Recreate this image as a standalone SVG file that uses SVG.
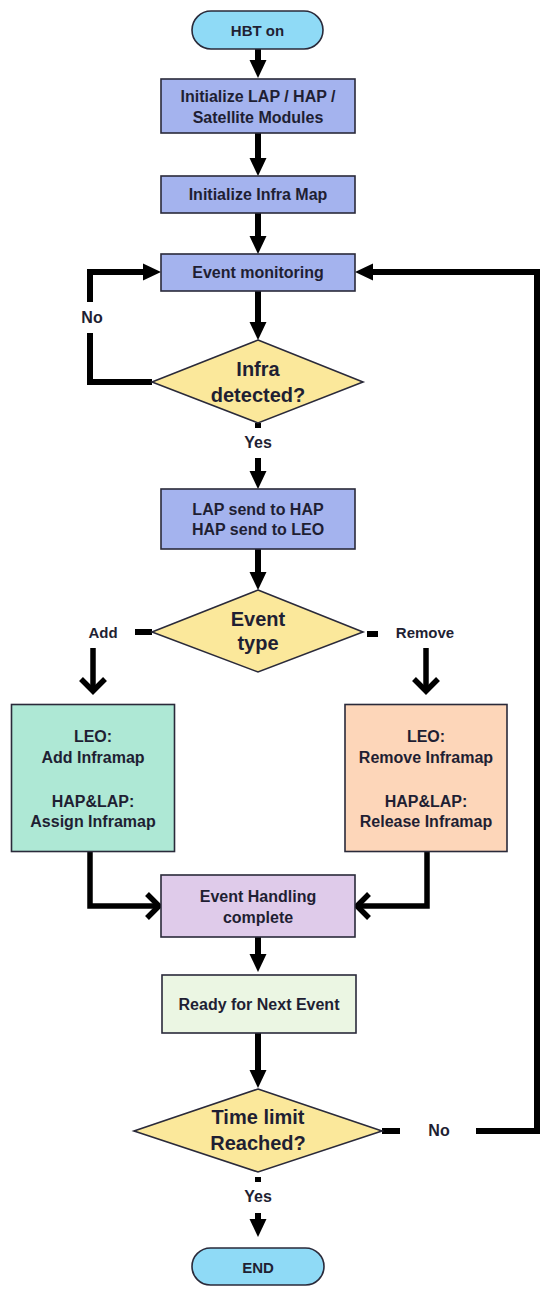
<svg xmlns="http://www.w3.org/2000/svg" width="550" height="1295" viewBox="0 0 550 1295">
<defs>
<style>
.t{font-family:"Liberation Sans",Arial,sans-serif;font-weight:bold;fill:#1f1f33;text-anchor:middle}
.s15{font-size:15px}.s16{font-size:16px}.s20{font-size:20px}
.box{stroke:#2a2a3a;stroke-width:1.6}
.pill{fill:#8fdaf6}.blue{fill:#a4b3ee}.dia{fill:#fbe89b}.green{fill:#aee8d5}.orange{fill:#fdd6b9}.purple{fill:#dfcbea}.ready{fill:#ebf6e3}
.c{fill:none;stroke:#000;stroke-width:6}
.cf{fill:none;stroke:#000;stroke-width:6;marker-end:url(#ah)}
.co{fill:none;stroke:#000;stroke-width:5.5;marker-end:url(#oh)}
</style>
<marker id="ah" markerUnits="userSpaceOnUse" markerWidth="20" markerHeight="18" refX="6" refY="8.5" orient="auto" overflow="visible">
<path d="M0,0 L18,8.5 L0,17 Z" fill="#000"/>
</marker>
<marker id="oh" markerUnits="userSpaceOnUse" markerWidth="20" markerHeight="30" refX="13" refY="13" orient="auto" overflow="visible">
<path d="M1,1 L13,13 L1,25" fill="none" stroke="#000" stroke-width="5.5" stroke-linejoin="miter"/>
</marker>
</defs>
<rect width="550" height="1295" fill="#fff"/>

<g id="connectors">
<line class="cf" x1="258" y1="49" x2="258" y2="66"/>
<line class="cf" x1="258" y1="133" x2="258" y2="164"/>
<line class="cf" x1="258" y1="213" x2="258" y2="242"/>
<line class="cf" x1="258" y1="291" x2="258" y2="328"/>
<path class="c" d="M152,382 H90 V333"/>
<path class="cf" d="M90,302 V272 H149"/>
<rect x="255" y="423" width="6" height="5" fill="#000"/>
<line class="cf" x1="258" y1="458" x2="258" y2="477"/>
<line class="cf" x1="258" y1="549" x2="258" y2="578"/>
<line class="c" x1="135" y1="632" x2="152" y2="632"/>
<line class="c" x1="367" y1="634" x2="378" y2="634"/>
<line class="co" x1="93" y1="648" x2="93" y2="691"/>
<line class="co" x1="426" y1="648" x2="426" y2="691"/>
<path class="co" d="M90,852 V906 H159"/>
<path class="co" d="M427,852 V906 H357"/>
<line class="cf" x1="258" y1="937" x2="258" y2="960"/>
<line class="cf" x1="258" y1="1033" x2="258" y2="1076"/>
<line class="c" x1="382" y1="1131" x2="400" y2="1131"/>
<path class="cf" d="M476,1131 H537 V272 H367"/>
<rect x="255" y="1177" width="6" height="5" fill="#000"/>
<line class="cf" x1="258" y1="1213" x2="258" y2="1225"/>
</g>

<g id="lbl-no1"><text class="t s16" x="92" y="323">No</text></g>
<g id="lbl-yes1"><text class="t s16" x="258" y="448">Yes</text></g>
<g id="lbl-add"><text class="t s15" x="103" y="638">Add</text></g>
<g id="lbl-remove"><text class="t s15" x="425" y="638">Remove</text></g>
<g id="lbl-no2"><text class="t s16" x="439" y="1136">No</text></g>
<g id="lbl-yes2"><text class="t s16" x="258" y="1202">Yes</text></g>

<g id="start">
<rect class="box pill" x="192" y="11" width="131" height="38" rx="19"/>
<text class="t s15" x="257.5" y="36">HBT on</text>
</g>
<g id="init-modules">
<rect class="box blue" x="161" y="79" width="194" height="54"/>
<text class="t s16" x="258" y="101.5">Initialize LAP / HAP /</text>
<text class="t s16" x="258" y="122.5">Satellite Modules</text>
</g>
<g id="init-map">
<rect class="box blue" x="161" y="176" width="194" height="37"/>
<text class="t s16" x="258" y="200">Initialize Infra Map</text>
</g>
<g id="event-monitoring">
<rect class="box blue" x="161" y="254" width="194" height="37"/>
<text class="t s16" x="258" y="278">Event monitoring</text>
</g>
<g id="infra-detected">
<polygon class="box dia" points="258,340 363,382 258,423 152,382"/>
<text class="t s20" x="258" y="376">Infra</text>
<text class="t s20" x="258" y="401.5">detected?</text>
</g>
<g id="send">
<rect class="box blue" x="161" y="489" width="194" height="60"/>
<text class="t s16" x="258" y="515">LAP send to HAP</text>
<text class="t s16" x="258" y="535">HAP send to LEO</text>
</g>
<g id="event-type">
<polygon class="box dia" points="258,590 363,632 258,672 152,632"/>
<text class="t s20" x="258" y="626">Event</text>
<text class="t s20" x="258" y="650">type</text>
</g>
<g id="add-box">
<rect class="box green" x="11.5" y="704.5" width="163" height="147"/>
<text class="t s16" x="93" y="742">LEO:</text>
<text class="t s16" x="93" y="763">Add Inframap</text>
<text class="t s16" x="93" y="807">HAP&amp;LAP:</text>
<text class="t s16" x="93" y="827">Assign Inframap</text>
</g>
<g id="remove-box">
<rect class="box orange" x="345" y="704.5" width="162" height="147"/>
<text class="t s16" x="426" y="742">LEO:</text>
<text class="t s16" x="426" y="763">Remove Inframap</text>
<text class="t s16" x="426" y="807">HAP&amp;LAP:</text>
<text class="t s16" x="426" y="827">Release Inframap</text>
</g>
<g id="handling-complete">
<rect class="box purple" x="161" y="875" width="194" height="62"/>
<text class="t s16" x="258" y="901.5">Event Handling</text>
<text class="t s16" x="258" y="922.5">complete</text>
</g>
<g id="ready">
<rect class="box ready" x="162" y="975" width="194" height="58"/>
<text class="t s16" x="259" y="1010">Ready for Next Event</text>
</g>
<g id="time-limit">
<polygon class="box dia" points="258,1089 382,1131 258,1172 134,1131"/>
<text class="t s20" x="258" y="1124">Time limit</text>
<text class="t s20" x="258" y="1150">Reached?</text>
</g>
<g id="end">
<rect class="box pill" x="192" y="1248" width="132" height="37" rx="18.5"/>
<text class="t s15" x="258" y="1272.5">END</text>
</g>
</svg>
